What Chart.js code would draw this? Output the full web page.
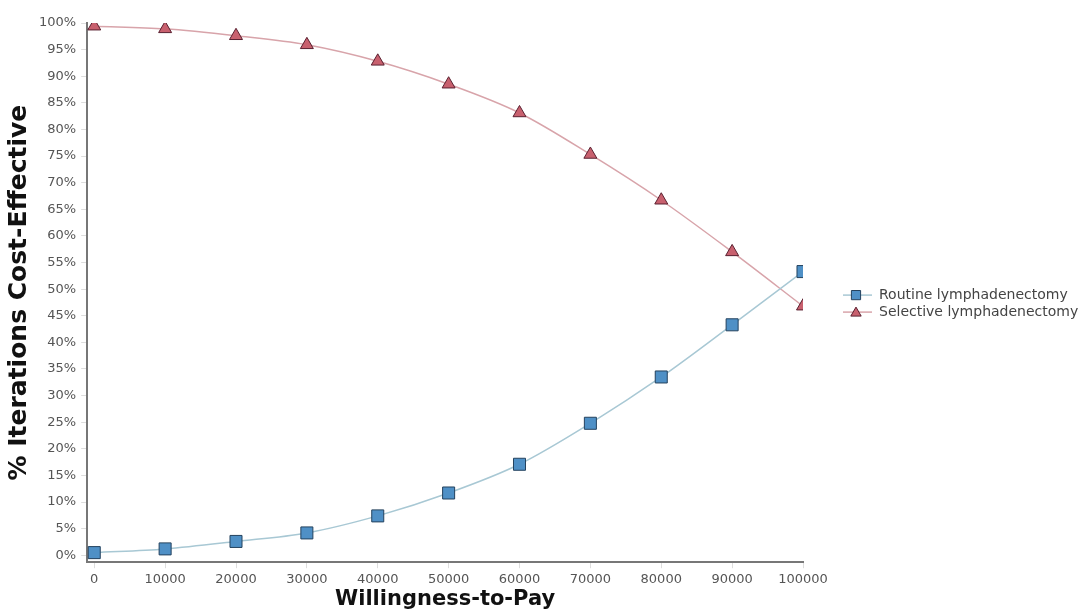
<!DOCTYPE html>
<html>
<head>
<meta charset="utf-8">
<script src="https://cdn.jsdelivr.net/npm/chart.js@4"></script>
<style>
  html, body { margin: 0; padding: 0; background: #fff; }
  #wrap { width: 1083px; height: 612px; }
</style>
</head>
<body>
<div id="wrap"><canvas id="ceac"></canvas></div>
<script>
// willingness-to-pay thresholds
const wtp = [0, 10000, 20000, 30000, 40000, 50000, 60000, 70000, 80000, 90000, 100000];
// % of iterations cost-effective
const routine = [0.5, 1.2, 2.6, 4.2, 7.4, 11.7, 17.1, 24.8, 33.5, 43.3, 53.3];
const selective = [99.4, 98.9, 97.6, 95.9, 92.8, 88.5, 83.1, 75.3, 66.7, 57.0, 46.8];

const xTicks = [0, 10000, 20000, 30000, 40000, 50000, 60000, 70000, 80000, 90000, 100000];
const yTicks = [0, 5, 10, 15, 20, 25, 30, 35, 40, 45, 50, 55, 60, 65, 70, 75, 80, 85, 90, 95, 100];

const FONT = '"DejaVu Sans", Verdana, sans-serif';

// legend drawn by hand: a short line with the marker on it, text to the right
const sideLegend = {
  id: 'sideLegend',
  afterDraw(chart) {
    const ctx = chart.ctx;
    const area = chart.chartArea;
    const x0 = area.right + 40;
    const yMid = (area.top + area.bottom) / 2 + 11;
    ctx.save();
    chart.data.datasets.forEach((ds, i) => {
      const y = yMid + (i - 0.5) * 17;
      ctx.strokeStyle = ds.borderColor;
      ctx.lineWidth = 1.5;
      ctx.beginPath();
      ctx.moveTo(x0, y);
      ctx.lineTo(x0 + 29, y);
      ctx.stroke();
      ctx.fillStyle = ds.pointBackgroundColor;
      ctx.strokeStyle = ds.pointBorderColor;
      ctx.lineWidth = 1;
      Chart.helpers.drawPoint(ctx, { pointStyle: ds.pointStyle, radius: ds.pointStyle === 'triangle' ? 6 : 6.5, borderWidth: 1 },
        x0 + 13, ds.pointStyle === 'triangle' ? y + 1 : y);
      ctx.fillStyle = '#444';
      ctx.font = '14px ' + FONT;
      ctx.textBaseline = 'middle';
      ctx.textAlign = 'left';
      ctx.fillText(ds.label, x0 + 36, y);
    });
    ctx.restore();
  }
};

const xy = vals => wtp.map((x, i) => ({ x: x, y: vals[i] }));

new Chart(document.getElementById('ceac'), {
  type: 'line',
  data: {
    datasets: [
      {
        label: 'Routine lymphadenectomy',
        data: xy(routine),
        borderColor: '#a8c8d4',
        borderWidth: 1.5,
        pointStyle: 'rect',
        pointRadius: 8.5,
        pointHoverRadius: 8.5,
        pointBackgroundColor: '#4f90c6',
        pointBorderColor: '#24425e',
        pointBorderWidth: 1,
        cubicInterpolationMode: 'monotone'
      },
      {
        label: 'Selective lymphadenectomy',
        data: xy(selective),
        borderColor: '#d8a4aa',
        borderWidth: 1.5,
        pointStyle: 'triangle',
        pointRadius: 7.5,
        pointHoverRadius: 7.5,
        pointBackgroundColor: '#c8606e',
        pointBorderColor: '#5a2030',
        pointBorderWidth: 1,
        cubicInterpolationMode: 'monotone'
      }
    ]
  },
  options: {
    responsive: true,
    maintainAspectRatio: false,
    animation: false,
    layout: { padding: { top: 23, left: 4, right: 280, bottom: 0 } },
    plugins: {
      tooltip: { enabled: false },
      legend: { display: false }
    },
    scales: {
      x: {
        type: 'linear',
        min: -1000,
        max: 100000,
        afterBuildTicks: s => { s.ticks = xTicks.map(v => ({ value: v })); },
        ticks: { color: '#555', font: { family: FONT, size: 13 }, padding: 4, maxRotation: 0, autoSkip: false, callback: v => String(v) },
        grid: { drawOnChartArea: false, tickLength: 6, color: '#ddd' },
        border: { color: '#777', width: 2 },
        title: { display: true, text: 'Willingness-to-Pay', color: '#111', font: { family: FONT, size: 21, weight: 'bold' }, padding: { top: -5, bottom: 0 } }
      },
      y: {
        min: -1.3,
        max: 100,
        afterBuildTicks: s => { s.ticks = yTicks.map(v => ({ value: v })); },
        ticks: { color: '#555', font: { family: FONT, size: 13 }, padding: 5, callback: v => v + '%' },
        grid: { drawOnChartArea: false, tickLength: 6, color: '#ddd' },
        border: { color: '#777', width: 2 },
        title: { display: true, text: '% Iterations Cost-Effective', color: '#111', font: { family: FONT, size: 25, weight: 'bold' }, padding: { top: 0, bottom: 0 } }
      }
    }
  },
  plugins: [sideLegend]
});
</script>
</body>
</html>
